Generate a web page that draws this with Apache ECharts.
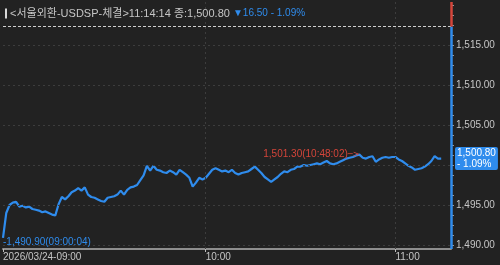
<!DOCTYPE html>
<html>
<head>
<meta charset="utf-8">
<script src="https://cdn.jsdelivr.net/npm/echarts@6/dist/echarts.min.js"></script>
<style>
html,body{margin:0;padding:0;background:#222222;}
#chart{width:500px;height:265px;}
</style>
</head>
<body>
<div id="chart"></div>
<script>
// ---- data ----
const categories = [
 "09:00:04","09:01","09:02","09:03","09:04","09:05","09:06","09:07","09:08","09:09",
 "09:10","09:11","09:12","09:13","09:14","09:15","09:16","09:17","09:18","09:19",
 "09:20","09:21","09:22","09:23","09:24","09:25","09:26","09:27","09:28","09:29",
 "09:30","09:31","09:32","09:33","09:34","09:35","09:36","09:37","09:38","09:39",
 "09:40","09:41","09:42","09:43","09:44","09:45","09:46","09:47","09:48","09:49",
 "09:50","09:51","09:52","09:53","09:54","09:55","09:56","09:57","09:58","09:59",
 "09:59:20","09:59:40",
 "10:00","10:01","10:02","10:03","10:04","10:05","10:06","10:07","10:08","10:09",
 "10:10","10:11","10:12","10:13","10:14","10:15","10:16","10:17","10:18","10:19",
 "10:20","10:21","10:22","10:23","10:24","10:25","10:26","10:27","10:28","10:29",
 "10:30","10:31","10:32","10:33","10:34","10:35","10:36","10:37","10:38","10:39",
 "10:40","10:41","10:42","10:43","10:44","10:45","10:46","10:48:02","10:49","10:50",
 "10:51","10:52","10:53","10:54","10:55","10:56","10:57","10:58",
 "11:00","11:01","11:02","11:03","11:04","11:05","11:06","11:07","11:08","11:09",
 "11:10","11:11","11:12","11:13","11:14:14",
 "11:15","11:16","11:17"
];
const prices = [
 1490.9,1494.0,1495.0,1495.3,1495.4,1494.8,1494.9,1494.7,1494.8,1494.5,
 1494.4,1494.3,1494.1,1494.2,1494.0,1493.8,1493.7,1495.1,1496.0,1495.7,
 1496.1,1496.6,1496.8,1497.1,1496.8,1497.2,1496.3,1496.0,1495.9,1495.7,
 1495.5,1495.4,1495.9,1496.0,1496.1,1496.3,1496.8,1496.3,1496.9,1497.2,
 1497.3,1497.5,1498.1,1498.7,1499.9,1499.3,1499.9,1499.4,1499.3,1499.1,
 1499.0,1499.3,1499.1,1498.8,1499.4,1499.1,1498.8,1498.4,1497.3,1497.8,
 1498.4,1498.2,1498.4,1498.9,1499.4,1499.6,1499.4,1499.2,1499.3,1499.1,
 1499.4,1499.0,1498.8,1499.0,1499.1,1499.2,1499.5,1499.8,1499.4,1499.0,
 1498.5,1498.2,1497.9,1498.2,1498.5,1498.9,1499.2,1499.1,1499.4,1499.5,
 1499.8,1499.8,1500.0,1499.9,1500.0,1500.1,1500.2,1500.1,1500.3,1500.5,
 1500.2,1500.1,1500.2,1500.4,1500.6,1500.8,1500.9,1501.0,1501.2,1501.3,
 1500.9,1500.8,1501.0,1501.1,1500.4,1500.7,1500.9,1501.0,1500.9,1501.0,
 1501.0,1500.7,1500.5,1500.2,1499.9,1499.7,1499.4,1499.5,1499.6,1499.8,
 1500.1,1500.5,1501.1,1500.8,1500.8
];
const xTickIndex = [0, 62, 120];
const xTickLabels = ["2026/03/24-09:00", "10:00", "11:00"];
const yTickValues = [1490, 1495, 1500, 1505, 1510, 1515];
const yMinorTicks = [1490,1491.25,1492.5,1493.75,1495,1496.25,1497.5,1498.75,1500,1501.25,1502.5,1503.75,1505,1506.25,1507.5,1508.75,1510,1511.25,1512.5,1513.75,1515,1516.25,1517.5,1518.75,1520];
const prevClose = 1517.30;
const lastPrice = 1500.80;
const change = -16.50;
const changePct = -1.09;
const lastTime = "11:14:14";
const minInfo = {index: 0, value: 1490.90, time: "09:00:04"};
const maxInfo = {index: 109, value: 1501.30, time: "10:48:02"};
const yMin = 1489.5, yMax = 1520.375;

// ---- helpers ----
const fmt = v => v.toLocaleString('en-US', {minimumFractionDigits: 2, maximumFractionDigits: 2});
const FONT = "'Liberation Sans','Noto Sans CJK KR',sans-serif";
const BLUE = '#2f8ced';
const RED = '#d4453a';
const GRID = '#3d3d3d';
const TXT = '#c6c6c6';
const lastIdx = categories.length - 1;

const chart = echarts.init(document.getElementById('chart'), null, {renderer: 'canvas'});

const gridLines = [];
yTickValues.forEach(v => gridLines.push({yAxis: v}));
xTickIndex.slice(1).forEach(i => gridLines.push({xAxis: i}));

chart.setOption({
  backgroundColor: '#222222',
  animation: false,
  title: {
    left: 0, top: 3,
    text: '{bar|}{g| <서울외환-USDSP-체결>' + lastTime + ' 종:' + fmt(lastPrice) + ' }{b|▼' + fmt(Math.abs(change)) + ' - ' + Math.abs(changePct).toFixed(2) + '%}',
    textStyle: {
      fontFamily: FONT, fontSize: 11, fontWeight: 'normal',
      rich: {
        bar: {backgroundColor: '#d8d8d8', width: 2, height: 10},
        g: {color: TXT, fontFamily: FONT, fontSize: 11},
        b: {color: BLUE, fontFamily: FONT, fontSize: 10}
      }
    }
  },
  grid: {left: 0, right: 49, top: 2, bottom: 16, containLabel: false},
  xAxis: {
    type: 'category',
    data: categories,
    boundaryGap: false,
    axisLine: {show: true, lineStyle: {color: '#8e8e8e', width: 2}},
    axisTick: {show: true, length: 3, interval: (i) => xTickIndex.includes(i), lineStyle: {color: '#bdbdbd'}},
    axisLabel: {
      show: true, interval: (i) => xTickIndex.includes(i),
      formatter: (val, i) => { const k = xTickIndex.indexOf(i); return k >= 0 ? xTickLabels[k] : ''; },
      align: 'left', margin: 3, color: TXT, fontSize: 10, fontFamily: FONT, hideOverlap: false
    },
    splitLine: {show: false}
  },
  yAxis: {
    type: 'value',
    position: 'right',
    min: yMin, max: yMax,
    axisLine: {show: false},
    axisTick: {show: true, customValues: yMinorTicks, length: 3, lineStyle: {color: '#9a9a9a'}},
    axisLabel: {
      show: true, customValues: yTickValues, formatter: v => fmt(v),
      margin: 5, color: TXT, fontSize: 10, fontFamily: FONT
    },
    splitLine: {show: false}
  },
  series: [
    {
      name: 'grid', type: 'line', data: [], z: 1, silent: true,
      markLine: {
        silent: true, symbol: ['none', 'none'], animation: false,
        label: {show: false},
        lineStyle: {color: GRID, type: [2, 3], width: 1},
        data: gridLines
      }
    },
    {
      name: 'prev', type: 'line', data: [], z: 2, silent: true, clip: false,
      markLine: {
        silent: true, symbol: ['none', 'none'], animation: false,
        label: {show: false},
        data: [
          {yAxis: prevClose, lineStyle: {color: '#cfcfcf', type: [3, 2], width: 1}},
          [{coord: [lastIdx, yMin], lineStyle: {color: BLUE, width: 2.5, type: 'solid'}}, {coord: [lastIdx, prevClose]}],
          [{coord: [lastIdx, prevClose], lineStyle: {color: RED, width: 2.5, type: 'solid'}}, {coord: [lastIdx, yMax]}]
        ]
      }
    },
    {
      name: 'USD/KRW', type: 'line', data: prices, z: 3,
      showSymbol: false, smooth: false, clip: false,
      lineStyle: {color: BLUE, width: 2.2},
      itemStyle: {color: BLUE},
      markPoint: {
        silent: true, symbol: 'circle', symbolSize: 0, animation: false,
        data: [
          {coord: [minInfo.index, minInfo.value],
           label: {show: true, position: 'right', distance: 0, offset: [0, 4],
                   formatter: '-' + fmt(minInfo.value) + '(' + minInfo.time + ')',
                   color: BLUE, fontSize: 10, fontFamily: FONT}},
          {coord: [maxInfo.index, maxInfo.value],
           label: {show: true, position: 'left', distance: 0, offset: [0, 0],
                   formatter: fmt(maxInfo.value) + '(' + maxInfo.time + '){a|─>}',
                   color: RED, fontSize: 10, fontFamily: FONT,
                   rich: {a: {color: RED, fontSize: 9, fontFamily: "'DejaVu Sans Condensed','DejaVu Sans'"}}}}
        ]
      },
      markLine: {
        silent: true, symbol: ['none', 'none'], animation: false,
        lineStyle: {color: 'rgba(0,0,0,0)', width: 0},
        data: [{
          yAxis: lastPrice,
          lineStyle: {color: 'rgba(0,0,0,0)', width: 0},
          label: {show: true, position: 'end', distance: 4,
                  formatter: fmt(lastPrice) + '\n' + '- ' + Math.abs(changePct).toFixed(2) + '%',
                  backgroundColor: BLUE, color: '#ffffff', fontSize: 10, fontFamily: FONT,
                  lineHeight: 11, padding: [1, 2, 0, 2], borderRadius: 2, align: 'left', opacity: 1}
        }]
      }
    }
  ]
});
</script>
</body>
</html>
